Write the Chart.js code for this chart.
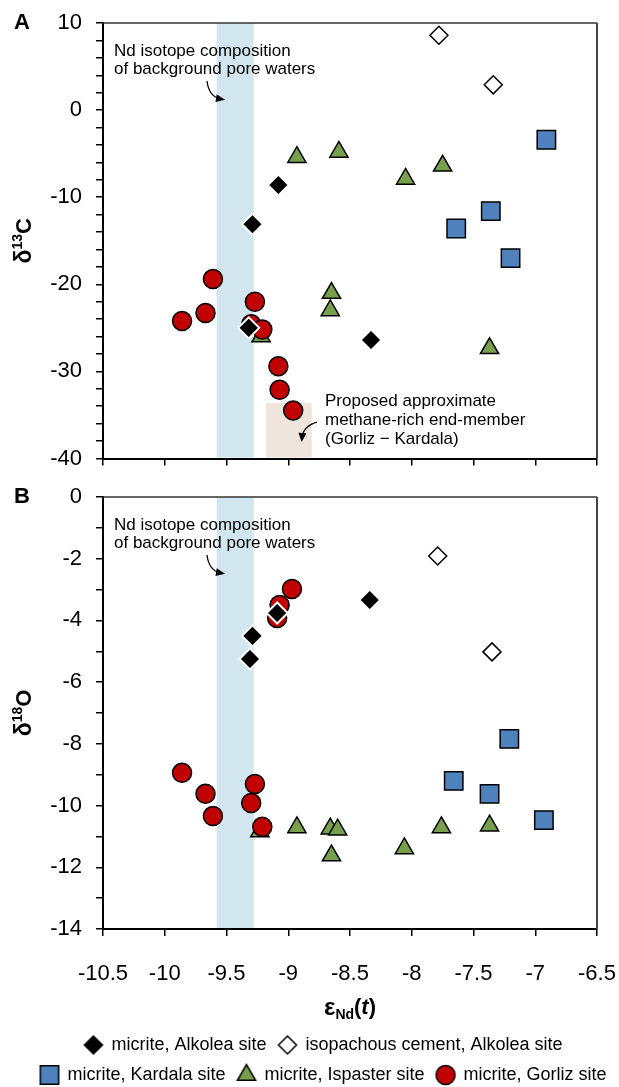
<!DOCTYPE html>
<html>
<head>
<meta charset="utf-8">
<script src="https://cdn.jsdelivr.net/npm/chart.js@4.4.0/dist/chart.umd.min.js"></script>
<style>
  html, body { margin: 0; padding: 0; background: #fff; width: 619px; height: 1087px; overflow: hidden; }
  #panelA { position: absolute; left: 0; top: 0; }
  #panelB { position: absolute; left: 0; top: 470px; }
</style>
</head>
<body>
<canvas id="panelA" width="619" height="473"></canvas>
<canvas id="panelB" width="619" height="630"></canvas>
<script>
const FONT = '"Liberation Sans", Arial, sans-serif';

const seriesNames = [
  "micrite, Alkolea site",
  "isopachous cement, Alkolea site",
  "micrite, Kardala site",
  "micrite, Ispaster site",
  "micrite, Gorliz site",
];

// panel A: eps Nd(t) vs d13C
const alkoleaNdA = [-9.08, -9.29, -9.32, -8.33];
const alkoleaC13 = [-8.6, -13.1, -25.0, -26.4];
const cementNdA = [-7.78, -7.34];
const cementC13 = [8.6, 2.9];
const kardalaNdA = [-6.91, -7.36, -7.64, -7.2];
const kardalaC13 = [-3.4, -11.6, -13.6, -17.0];
const ispasterNdA = [-8.93, -8.59, -8.05, -7.75, -8.65, -8.66, -7.37, -9.22];
const ispasterC13 = [-5.4, -4.8, -7.9, -6.4, -21.0, -23.0, -27.35, -26.0];
const gorlizNdA = [-9.61, -9.86, -9.67, -9.27, -9.3, -9.21, -9.08, -9.07, -8.96];
const gorlizC13 = [-19.4, -24.2, -23.3, -22.0, -24.6, -25.2, -29.4, -32.1, -34.5];

// panel B: eps Nd(t) vs d18O
const alkoleaNdB = [-9.29, -9.31, -9.09, -8.34];
const alkoleaO18 = [-4.5, -5.25, -3.76, -3.34];
const cementNdB = [-7.79, -7.35];
const cementO18 = [-1.91, -5.02];
const kardalaNdB = [-7.21, -7.66, -7.37, -6.93];
const kardalaO18 = [-7.84, -9.2, -9.62, -10.47];
const ispasterNdB = [-8.93, -8.66, -8.6, -8.65, -8.06, -7.76, -7.37, -9.23];
const ispasterO18 = [-10.71, -10.75, -10.78, -11.62, -11.39, -10.71, -10.65, -10.84];
const gorlizNdB = [-8.97, -9.07, -9.09, -9.86, -9.67, -9.61, -9.27, -9.3, -9.21];
const gorlizO18 = [-2.98, -3.5, -3.92, -8.94, -9.62, -10.34, -9.3, -9.92, -10.69];

// axes
const xTickValues = [-10.5, -10, -9.5, -9, -8.5, -8, -7.5, -7, -6.5];
const c13Labels = [10, 0, -10, -20, -30, -40];
const o18Labels = [0, -2, -4, -6, -8, -10, -12, -14];

// shaded ranges
const poreWaterBand = [-9.58, -9.28];
const methaneBoxNd = [-9.18, -8.81];
const methaneBoxC13 = [-40, -33.6];

const markerStyles = [
  { pointStyle: "rectRot", radius: 10.5, fill: "#000000", border: "#ffffff", order: 0 },
  { pointStyle: "rectRot", radius: 9, fill: "#ffffff", border: "#000000", order: 1 },
  { pointStyle: "rect", radius: 13, fill: "#4f81bd", border: "#000000", order: 2 },
  { pointStyle: "triangle", radius: 10.5, fill: "#77a04e", border: "#000000", order: 4 },
  { pointStyle: "circle", radius: 9.5, fill: "#c00000", border: "#000000", order: 3 },
];

function makeIcon(s) {
  const c = document.createElement("canvas");
  c.width = 28;
  c.height = 28;
  const ctx = c.getContext("2d");
  ctx.fillStyle = s.fill;
  ctx.strokeStyle = s.fill === "#000000" ? "#000000" : s.border;
  ctx.lineWidth = 1.5;
  const r = s.pointStyle === "rectRot" ? 9 : s.radius;
  Chart.helpers.drawPoint(ctx, { pointStyle: s.pointStyle, radius: r, borderWidth: 1.5, rotation: 0 }, 14, 14);
  return c;
}
const legendIcons = markerStyles.map(makeIcon);

function dataset(i, xs, ys) {
  const s = markerStyles[i];
  return {
    label: seriesNames[i],
    data: xs.map((x, k) => ({ x: x, y: ys[k] })),
    pointStyle: s.pointStyle,
    pointRadius: s.radius,
    pointHoverRadius: s.radius,
    backgroundColor: s.fill,
    borderColor: s.border,
    borderWidth: s.fill === "#000000" ? 2 : 1.5,
    order: s.order,
  };
}

function noPadding(s) {
  s.paddingLeft = 0;
  s.paddingRight = 0;
  s.paddingTop = 0;
  s.paddingBottom = 0;
}

function xScale(showLabels, height) {
  return {
    type: "linear",
    min: -10.5,
    max: -6.5,
    afterBuildTicks: (s) => { s.ticks = xTickValues.map((v) => ({ value: v })); },
    ticks: {
      display: showLabels, autoSkip: false, maxRotation: 0, color: "#000",
      font: { family: FONT, size: 22 }, padding: 25,
      callback: (v) => String(v),
    },
    grid: { display: true, drawOnChartArea: false, drawTicks: true, tickLength: 7, color: "#000", lineWidth: 1.5 },
    border: { display: true, color: "#000", width: 2 },
    afterFit: (s) => { s.height = height; noPadding(s); },
  };
}

function yScale(min, max, step, labels, width) {
  return {
    type: "linear",
    min: min,
    max: max,
    ticks: {
      stepSize: step, autoSkip: false, color: "#000",
      font: { family: FONT, size: 22 }, padding: 14,
      callback: (v) => (labels.includes(v) ? String(v) : ""),
    },
    grid: { display: true, drawOnChartArea: false, drawTicks: true, tickLength: 7, color: "#000", lineWidth: 1.5 },
    border: { display: true, color: "#000", width: 2 },
    afterFit: (s) => { s.width = width; noPadding(s); },
  };
}

function arrow(ctx, x0, y0, cx, cy, x1, y1) {
  ctx.beginPath();
  ctx.moveTo(x0, y0);
  ctx.quadraticCurveTo(cx, cy, x1, y1);
  ctx.stroke();
  const ang = Math.atan2(y1 - cy, x1 - cx);
  const len = 9, half = 4;
  const tx = x1 + Math.cos(ang) * 4, ty = y1 + Math.sin(ang) * 4;
  ctx.beginPath();
  ctx.moveTo(tx, ty);
  ctx.lineTo(tx - len * Math.cos(ang) + half * Math.sin(ang), ty - len * Math.sin(ang) - half * Math.cos(ang));
  ctx.lineTo(tx - len * Math.cos(ang) - half * Math.sin(ang), ty - len * Math.sin(ang) + half * Math.cos(ang));
  ctx.closePath();
  ctx.fill();
}

const decor = {
  id: "decor",
  beforeDatasetsDraw(chart, args, opts) {
    const { ctx, chartArea: a, scales: { x, y } } = chart;
    ctx.save();
    ctx.fillStyle = "#d1e6ee";
    const b0 = x.getPixelForValue(poreWaterBand[0]);
    const b1 = x.getPixelForValue(poreWaterBand[1]);
    ctx.fillRect(b0, a.top, b1 - b0, a.bottom - a.top - 1);
    if (opts.methane) {
      ctx.fillStyle = "#f0e5dc";
      const m0 = x.getPixelForValue(methaneBoxNd[0]);
      const m1 = x.getPixelForValue(methaneBoxNd[1]);
      const t = y.getPixelForValue(methaneBoxC13[1]);
      ctx.fillRect(m0, t, m1 - m0, a.bottom - t - 1);
    }
    ctx.restore();
  },
  afterDatasetsDraw(chart, args, opts) {
    const { ctx, chartArea: a } = chart;
    ctx.save();
    ctx.fillStyle = "#000";
    ctx.strokeStyle = "#000";
    ctx.lineWidth = 1.3;
    ctx.font = "17px " + FONT;
    ctx.textBaseline = "middle";
    ctx.textAlign = "left";
    ctx.fillText("Nd isotope composition", a.left + 11, a.top + 28);
    ctx.fillText("of background pore waters", a.left + 11, a.top + 46);
    arrow(ctx, a.left + 104, a.top + 58, a.left + 106, a.top + 74, a.left + 118, a.top + 76);
    if (opts.methane) {
      ctx.fillText("Proposed approximate", a.left + 222, a.top + 378);
      ctx.fillText("methane-rich end-member", a.left + 222, a.top + 397);
      ctx.fillText("(Gorliz \u2212 Kardala)", a.left + 222, a.top + 416);
      arrow(ctx, a.left + 214, a.top + 399, a.left + 200, a.top + 403, a.left + 199, a.top + 415);
    }
    ctx.restore();
  },
  afterDraw(chart, args, opts) {
    const { ctx, chartArea: a } = chart;
    ctx.save();
    // frame top and right
    ctx.strokeStyle = "#333";
    ctx.lineWidth = 1.5;
    ctx.beginPath();
    ctx.moveTo(a.left, a.top);
    ctx.lineTo(a.right, a.top);
    ctx.stroke();
    ctx.strokeStyle = "#444";
    ctx.lineWidth = 2;
    ctx.beginPath();
    ctx.moveTo(a.right, a.top);
    ctx.lineTo(a.right, a.bottom);
    ctx.stroke();

    ctx.fillStyle = "#000";
    ctx.textBaseline = "middle";
    // panel letter
    ctx.font = "bold 22px " + FONT;
    ctx.textAlign = "center";
    ctx.fillText(opts.letter, 22, a.top);

    // y title: delta with superscript
    const parts = [
      { t: "\u03b4", f: "bold 23px " + FONT, dy: 0 },
      { t: opts.iso, f: "bold 14px " + FONT, dy: -7 },
      { t: opts.el, f: "bold 22px " + FONT, dy: 0 },
    ];
    let w = 0;
    parts.forEach((p) => { ctx.font = p.f; p.w = ctx.measureText(p.t).width; w += p.w; });
    ctx.translate(25, (a.top + a.bottom) / 2);
    ctx.rotate(-Math.PI / 2);
    ctx.textAlign = "left";
    let cx = -w / 2;
    parts.forEach((p) => { ctx.font = p.f; ctx.fillText(p.t, cx, p.dy); cx += p.w; });
    ctx.setTransform(1, 0, 0, 1, 0, 0);

    if (opts.xTitle) {
      const xp = [
        { t: "\u03b5", f: "bold 24px " + FONT, dy: 0 },
        { t: "Nd", f: "bold 14px " + FONT, dy: 7 },
        { t: "(", f: "bold 22px " + FONT, dy: 0 },
        { t: "t", f: "italic bold 22px " + FONT, dy: 0 },
        { t: ")", f: "bold 22px " + FONT, dy: 0 },
      ];
      let xw = 0;
      xp.forEach((p) => { ctx.font = p.f; p.w = ctx.measureText(p.t).width; xw += p.w; });
      let px = (a.left + a.right) / 2 - xw / 2;
      const py = a.bottom + 79;
      ctx.textAlign = "left";
      xp.forEach((p) => { ctx.font = p.f; ctx.fillText(p.t, px, py + p.dy); px += p.w; });
    }
    ctx.restore();
  },
};

new Chart(document.getElementById("panelA"), {
  type: "scatter",
  data: {
    datasets: [
      dataset(0, alkoleaNdA, alkoleaC13),
      dataset(1, cementNdA, cementC13),
      dataset(2, kardalaNdA, kardalaC13),
      dataset(3, ispasterNdA, ispasterC13),
      dataset(4, gorlizNdA, gorlizC13),
    ],
  },
  options: {
    responsive: false,
    animation: false,
    events: [],
    layout: { padding: { left: 0, right: 22, top: 23, bottom: 0 } },
    scales: {
      x: xScale(false, 13),
      y: yScale(-40, 10, 2, c13Labels, 103),
    },
    plugins: {
      legend: { display: false },
      tooltip: { enabled: false },
      decor: { letter: "A", iso: "13", el: "C", methane: true, xTitle: false },
    },
  },
  plugins: [decor],
});

new Chart(document.getElementById("panelB"), {
  type: "scatter",
  data: {
    datasets: [
      dataset(0, alkoleaNdB, alkoleaO18),
      dataset(1, cementNdB, cementO18),
      dataset(2, kardalaNdB, kardalaO18),
      dataset(3, ispasterNdB, ispasterO18),
      dataset(4, gorlizNdB, gorlizO18),
    ],
  },
  options: {
    responsive: false,
    animation: false,
    events: [],
    layout: { padding: { left: 28, right: 0, top: 27, bottom: 6 } },
    scales: {
      x: xScale(true, 95),
      y: yScale(-14, 0, 1, o18Labels, 75),
      yPad: {
        type: "linear", position: "right", display: true,
        grid: { display: false }, ticks: { display: false }, border: { display: false },
        afterFit: (s) => { s.width = 22; noPadding(s); },
      },
    },
    plugins: {
      legend: {
        display: true,
        position: "bottom",
        labels: {
          usePointStyle: true,
          color: "#000",
          font: { family: FONT, size: 18 },
          padding: 12,
          boxWidth: 18,
          boxHeight: 18,
          sort: (a, b) => a.datasetIndex - b.datasetIndex,
          generateLabels: (chart) =>
            Chart.defaults.plugins.legend.labels.generateLabels(chart).map((l) =>
              Object.assign({}, l, { pointStyle: legendIcons[l.datasetIndex] })),
        },
      },
      tooltip: { enabled: false },
      decor: { letter: "B", iso: "18", el: "O", methane: false, xTitle: true },
    },
  },
  plugins: [decor],
});
</script>
</body>
</html>
